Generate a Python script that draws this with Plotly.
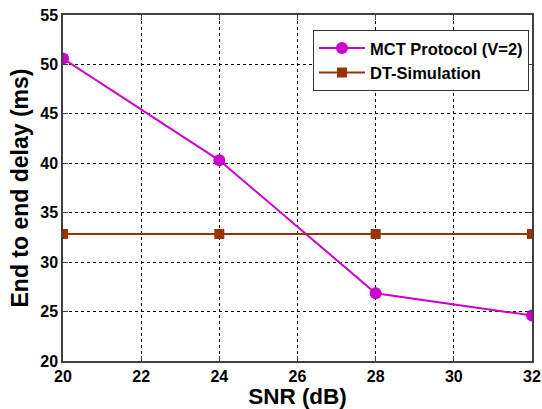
import plotly.graph_objects as go

snr = [20, 24, 28, 32]
mct_delay = [50.6, 40.3, 26.85, 24.6]
dt_delay = [32.85, 32.85, 32.85, 32.85]
x_ticks = [20, 22, 24, 26, 28, 30, 32]
y_ticks = [20, 25, 30, 35, 40, 45, 50, 55]

font_family = "Liberation Sans, Arial, sans-serif"

fig = go.Figure()
fig.add_trace(go.Scatter(
    x=snr, y=mct_delay, mode="lines+markers", name="MCT Protocol (V=2)",
    line=dict(color="#CC00CC", width=2),
    marker=dict(symbol="circle", size=12, color="#CC00CC"),
))
fig.add_trace(go.Scatter(
    x=snr, y=dt_delay, mode="lines+markers", name="DT-Simulation",
    line=dict(color="#993300", width=2),
    marker=dict(symbol="square", size=10, color="#993300"),
))

axis_common = dict(
    showgrid=True, gridcolor="black", griddash="dot", gridwidth=1,
    showline=True, linecolor="#404040", linewidth=1.5, mirror="allticks",
    ticks="inside", ticklen=5, tickcolor="#404040", tickwidth=1,
    zeroline=False, automargin=False,
    tickfont=dict(family=font_family, size=16, color="black", weight="bold"),
)

fig.update_layout(
    width=542, height=409,
    margin=dict(l=63, r=10, t=15, b=48, autoexpand=False),
    paper_bgcolor="white", plot_bgcolor="white",
    font=dict(family=font_family, color="black"),
    showlegend=True,
    legend=dict(
        x=0.533, y=0.957, xanchor="left", yanchor="top",
        bgcolor="white", bordercolor="#333333", borderwidth=1,
        font=dict(family=font_family, size=16.5, color="black", weight="bold"),
        tracegroupgap=0, itemwidth=46,
    ),
    xaxis=dict(
        range=[20, 32], tickvals=x_ticks, ticktext=[str(v) for v in x_ticks],
        title=dict(text="SNR (dB)", standoff=5,
                   font=dict(family=font_family, size=22.5, color="black", weight="bold")),
        **axis_common,
    ),
    yaxis=dict(
        range=[20, 55], tickvals=y_ticks, ticktext=[str(v) for v in y_ticks],
        title=dict(text="End to end delay (ms)", standoff=5,
                   font=dict(family=font_family, size=23, color="black", weight="bold")),
        **axis_common,
    ),
)

fig.write_html(
    "out.html",
    config={"displayModeBar": False},
    post_script="document.body.style.margin='0';",
)
